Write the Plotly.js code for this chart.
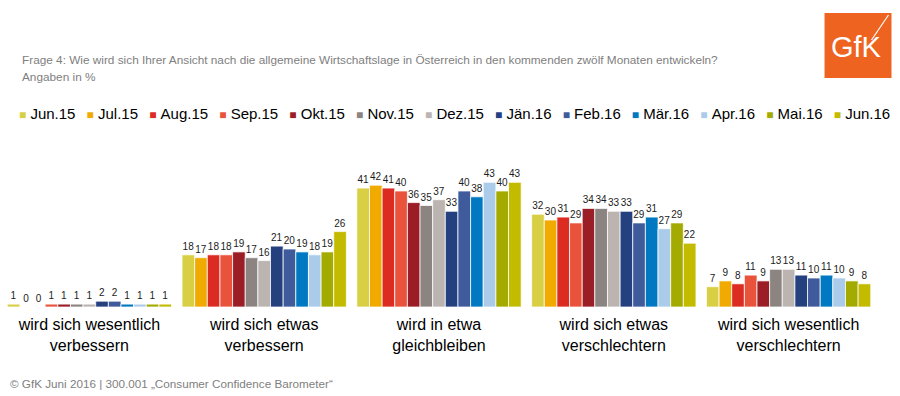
<!DOCTYPE html>
<html>
<head>
<meta charset="utf-8">
<script src="https://cdn.plot.ly/plotly-3.0.1.min.js"></script>
<style>
html,body{margin:0;padding:0;background:#fff;}
#chart{width:900px;height:396px;}
</style>
</head>
<body>
<div id="chart"></div>
<script>
// ---- data ----
var categories = [
  "wird sich wesentlich<br>verbessern",
  "wird sich etwas<br>verbessern",
  "wird in etwa<br>gleichbleiben",
  "wird sich etwas<br>verschlechtern",
  "wird sich wesentlich<br>verschlechtern"
];
var seriesNames = ["Jun.15","Jul.15","Aug.15","Sep.15","Okt.15","Nov.15","Dez.15","Jän.16","Feb.16","Mär.16","Apr.16","Mai.16","Jun.16"];
var seriesColors = ["#d8cf45","#f0aa00","#dc2b21","#e9533b","#9b1d26","#8c8480","#bbb4b1","#24407f","#3f5b9c","#0079c2","#abcbea","#a3aa00","#c3bb00"];
var wesentlichVerbessern   = [1,0,0,1,1,1,1,2,2,1,1,1,1];
var etwasVerbessern        = [18,17,18,18,19,17,16,21,20,19,18,19,26];
var gleichbleiben          = [41,42,41,40,36,35,37,33,40,38,43,40,43];
var etwasVerschlechtern    = [32,30,31,29,34,34,33,33,29,31,27,29,22];
var wesentlichVerschlechtern = [7,9,8,11,9,13,13,11,10,11,10,9,8];
var titleText = "Frage 4: Wie wird sich Ihrer Ansicht nach die allgemeine Wirtschaftslage in Österreich in den kommenden zwölf Monaten entwickeln?";
var subtitleText = "Angaben in %";
var footerText = "© GfK Juni 2016 | 300.001 „Consumer Confidence Barometer“";

// ---- geometry helpers ----
var W = 900, H = 396, ML = 2, MR = 23.5, MT = 162, MB = 89;
var PW = W - ML - MR, PH = H - MT - MB;
function xp(px){ return (px - ML) / PW; }
function yp(py){ return (H - MB - py) / PH; }

var groups = [wesentlichVerbessern, etwasVerbessern, gleichbleiben, etwasVerschlechtern, wesentlichVerschlechtern];
var FONT = "Liberation Sans, Arial, sans-serif";

var traces = seriesNames.map(function(name, i){
  return {
    type: "bar",
    name: name,
    x: categories,
    y: groups.map(function(g){ return g[i]; }),
    marker: {color: seriesColors[i], line: {color: "rgba(255,255,255,0.75)", width: 1}},
    texttemplate: "%{y}",
    textposition: "outside",
    textfont: {family: FONT, size: 10, color: "#1b1b1b"},
    constraintext: "none",
    cliponaxis: false,
    showlegend: false,
    hoverinfo: "x+y+name"
  };
});

// legend as one rich-text annotation built from series
var gap = '\u00A0\u00A0<span style="font-size:10px">\u00A0</span>';
var legendText = seriesNames.map(function(n, i){
  return '<span style="color:' + seriesColors[i] + ';font-size:12px">■</span>\u00A0' + n;
}).join(gap);

var annotations = [
  {xref:"paper", yref:"paper", x: xp(20), y: yp(60), xanchor:"left", yanchor:"middle", showarrow:false,
   text: titleText, font:{family:FONT, size:11.8, color:"#808080"}},
  {xref:"paper", yref:"paper", x: xp(20), y: yp(77), xanchor:"left", yanchor:"middle", showarrow:false,
   text: subtitleText, font:{family:FONT, size:11.8, color:"#808080"}},
  {xref:"paper", yref:"paper", x: xp(17), y: yp(113), xanchor:"left", yanchor:"middle", showarrow:false,
   text: legendText, font:{family:FONT, size:15, color:"#000"}},
  {xref:"paper", yref:"paper", x: xp(8), y: yp(383), xanchor:"left", yanchor:"middle", showarrow:false,
   text: footerText, font:{family:FONT, size:11.7, color:"#808080"}},
  {xref:"paper", yref:"paper", x: xp(857), y: yp(47), xanchor:"center", yanchor:"middle", showarrow:false,
   text: "GfK", font:{family:FONT, size:29, color:"#ffffff"}}
];

var shapes = [
  {type:"rect", xref:"paper", yref:"paper", x0: xp(825), x1: xp(892), y0: yp(78), y1: yp(13),
   fillcolor:"#ee6320", line:{width:0}, layer:"above"},
  {type:"line", xref:"paper", yref:"paper", x0: xp(872), y0: yp(40), x1: xp(889), y1: yp(15),
   line:{color:"#ffffff", width:1.2}, layer:"above"}
];

var layout = {
  width: W, height: H,
  margin: {l: ML, r: MR, t: MT, b: MB, pad: 0},
  paper_bgcolor: "#ffffff", plot_bgcolor: "#ffffff",
  barmode: "group", bargap: 0.06, bargroupgap: 0,
  showlegend: false,
  xaxis: {type:"category", showgrid:false, zeroline:false, showline:false, ticks:"",
          tickfont:{family:FONT, size:16, color:"#000"}, ticklabelstandoff: 6, automargin:false, fixedrange:true},
  yaxis: {visible:false, range:[0,50], fixedrange:true, automargin:false},
  annotations: annotations,
  shapes: shapes,
  font: {family: FONT}
};

Plotly.newPlot("chart", traces, layout, {displayModeBar:false, staticPlot:true});
</script>
</body>
</html>
